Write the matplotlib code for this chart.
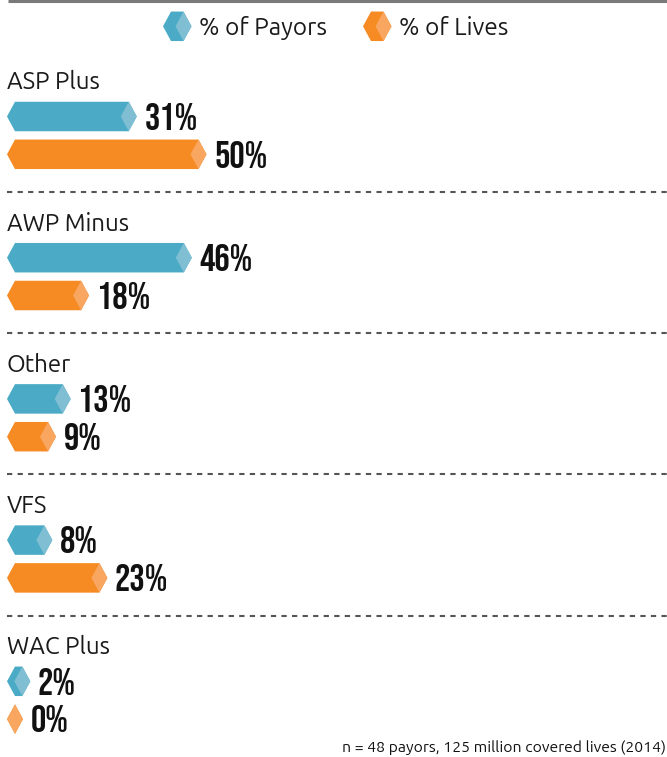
import matplotlib
matplotlib.use("Agg")
import matplotlib.pyplot as plt
from matplotlib.patches import Polygon

# ---- data ----
categories = ["ASP Plus", "AWP Minus", "Other", "VFS", "WAC Plus"]
payors = [31, 46, 13, 8, 2]
lives = [50, 18, 9, 23, 0]
series_names = ["% of Payors", "% of Lives"]
footnote = "n = 48 payors, 125 million covered lives (2014)"

# ---- style ----
W, H = 667, 757
PX_PER_PCT = 3.67          # bar length scale (pixels per percent)
ORIGIN_PX = 23             # pixel x where a 0% bar ends
CHEV = 8                   # chevron width in px
BAR_H = 29.5
ROW0, ROW_STEP = 81, 141.2
OFF_P, OFF_L = 35.5, 73.3
dark = ["#4BABC6", "#F68A23"]
light = ["#80BFD3", "#F9A660"]

LABEL_FONT = ["Ubuntu", "DejaVu Sans"]
VALUE_FONT = ["Bebas Neue", "DejaVu Sans"]
VALUE_SIZE = 27.5

fig = plt.figure(figsize=(W / 100, H / 100), dpi=100)
ax = fig.add_axes([0, 0, 1, 1])
# x axis in percent units, y in pixel units
ax.set_xlim(-ORIGIN_PX / PX_PER_PCT, (W - ORIGIN_PX) / PX_PER_PCT)
ax.set_ylim(H, 0)
ax.axis("off")

u = 1.0 / PX_PER_PCT  # one pixel in percent units
x_left = (7 - ORIGIN_PX) * u


def bar_shape(xl, xe, yc, k):
    h = BAR_H / 2
    c = CHEV * u
    body = [(xl, yc), (xl + c, yc - h), (xe - c, yc - h), (xe, yc),
            (xe - c, yc + h), (xl + c, yc + h)]
    cap = [(xe - 2 * c, yc), (xe - c, yc - h), (xe, yc), (xe - c, yc + h)]
    ax.add_patch(Polygon(body, closed=True, facecolor=dark[k], edgecolor="none", zorder=2))
    ax.add_patch(Polygon(cap, closed=True, facecolor=light[k], edgecolor="none", zorder=3))


def value_label(v, yc):
    cap_px = 0.7 * VALUE_SIZE / 0.72
    ax.text(v + 7.5 * u, yc + cap_px / 2, f"{v}%", fontsize=VALUE_SIZE, family=VALUE_FONT,
            ha="left", va="baseline", color="#111111", zorder=4)


# top rule
ax.plot([(8 - ORIGIN_PX) * u, (W - ORIGIN_PX) * u], [1, 1], color="#7a7a7a",
        lw=2.2, solid_capstyle="butt", zorder=1)

# legend
leg_x = [163, 363]
for k, name in enumerate(series_names):
    xl = (leg_x[k] - ORIGIN_PX) * u
    bar_shape(xl, xl + 28.5 * u, 26.3, k)
    ax.text(xl + 36 * u, 35, name, fontsize=17.5, family=LABEL_FONT, fontweight="light",
            ha="left", va="baseline", color="#1a1a1a")

plt.rcParams["lines.scale_dashes"] = False
for i, cat in enumerate(categories):
    base = ROW0 + ROW_STEP * i
    ax.text(x_left, base + 8.4, cat, fontsize=17.3, family=LABEL_FONT, fontweight="light",
            ha="left", va="baseline", color="#1a1a1a")
    for k, vals in enumerate([payors, lives]):
        v = vals[i]
        yc = base + (OFF_P if k == 0 else OFF_L)
        bar_shape(x_left, v, yc, k)
        value_label(v, yc)
    if i < len(categories) - 1:
        ax.plot([x_left, (W - ORIGIN_PX) * u], [base + 111, base + 111],
                color="#555555", lw=1.5, linestyle=(0, (3.8, 3.8)), zorder=1)

ax.text((666 - ORIGIN_PX) * u, 752, footnote, fontsize=11.3, family=LABEL_FONT,
        ha="right", va="baseline", color="#111111")

fig.savefig("out.png", dpi=100)
